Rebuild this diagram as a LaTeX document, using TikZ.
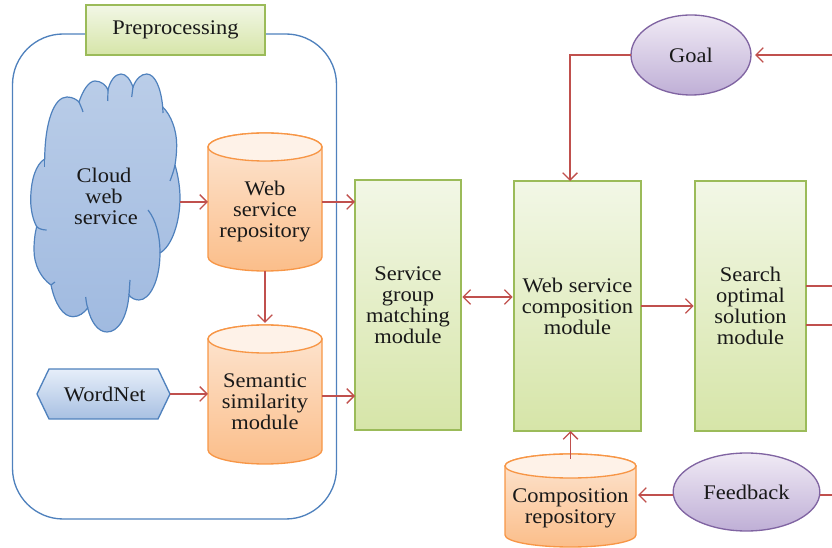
\documentclass[tikz,border=0pt]{standalone}
\usepackage{fontspec}
\setmainfont{Liberation Serif}[FakeStretch=1.08]
\usetikzlibrary{arrows.meta,shapes.geometric,calc}
\definecolor{grB}{HTML}{9BBB59}\definecolor{grT}{HTML}{F2F7E6}\definecolor{grD}{HTML}{D6E5A8}
\definecolor{orB}{HTML}{F79646}\definecolor{orT}{HTML}{FDE6D3}\definecolor{orD}{HTML}{FBBE8A}\definecolor{orL}{HTML}{FEF2E8}
\definecolor{blB}{HTML}{4F81BD}\definecolor{blT}{HTML}{BACDE8}\definecolor{blD}{HTML}{A0BAE0}
\definecolor{hxT}{HTML}{E6EEF9}\definecolor{hxD}{HTML}{A8C0E2}
\definecolor{puB}{HTML}{8064A2}\definecolor{puT}{HTML}{F0EAF5}\definecolor{puD}{HTML}{BFAFD6}
\definecolor{conn}{HTML}{C0504D}
\tikzset{
  x=0.75pt,y=-0.75pt,
  txt/.style={font=\fontsize{15.6}{15.75}\selectfont,align=center,inner sep=0pt,text=black!90},
  greenbox/.style={txt,rectangle,draw=grB,line width=1.1pt,top color=grT,bottom color=grD,outer sep=0pt},
  purpleell/.style={txt,ellipse,draw=puB,line width=1pt,top color=puT,bottom color=puD,outer sep=0pt},
  conline/.style={draw=conn,line width=0.95pt,-{Straight Barb[length=5.5pt,width=11pt,line width=0.95pt]}},
  plainline/.style={draw=conn,line width=0.95pt},
  bothline/.style={draw=conn,line width=0.95pt,{Straight Barb[length=5.5pt,width=11pt,line width=0.95pt]}-{Straight Barb[length=5.5pt,width=11pt,line width=0.95pt]}},
  cloudline/.style={draw=blB,line width=0.9pt}
}
% name, cx, half width, top, bottom, ry, text y, text
\newcommand{\cylshape}[8]{%
  \pgfmathsetmacro{\xl}{#2-#3}\pgfmathsetmacro{\xr}{#2+#3}
  \pgfmathsetmacro{\ya}{#4+#6}\pgfmathsetmacro{\yb}{#5-#6}
  \pgfmathsetmacro{\kx}{0.5523*#3}\pgfmathsetmacro{\ky}{0.5523*#6}
  \path[top color=orT,bottom color=orD,draw=orB,line width=1pt]
    (\xl,\ya) -- (\xl,\yb) .. controls (\xl,\yb+\ky) and (#2-\kx,#5) .. (#2,#5)
    .. controls (#2+\kx,#5) and (\xr,\yb+\ky) .. (\xr,\yb) -- (\xr,\ya)
    .. controls (\xr,\ya-\ky) and (#2+\kx,#4) .. (#2,#4)
    .. controls (#2-\kx,#4) and (\xl,\ya-\ky) .. (\xl,\ya) -- cycle;
  \path[fill=orL,draw=orB,line width=1pt]
    (\xl,\ya) .. controls (\xl,\ya+\ky) and (#2-\kx,#4+2*#6) .. (#2,#4+2*#6)
    .. controls (#2+\kx,#4+2*#6) and (\xr,\ya+\ky) .. (\xr,\ya)
    .. controls (\xr,\ya-\ky) and (#2+\kx,#4) .. (#2,#4)
    .. controls (#2-\kx,#4) and (\xl,\ya-\ky) .. (\xl,\ya) -- cycle;
  \node[inner sep=0pt,outer sep=0pt,minimum width={2*#3*0.75pt},minimum height={(#5-#4)*0.75pt}] (#1) at (#2,{(#4+#5)/2}) {};
  \node[txt] (#1text) at (#2,#7) {#8};
}
\begin{document}
\begin{tikzpicture}
\useasboundingbox (0,0) rectangle (832,548);
% frame
\path[draw=blB,line width=1pt,rounded corners=38pt] (12.5,34) rectangle (336.5,519);
\node[greenbox,minimum width=134pt,minimum height=37.5pt] (prep) at (175.5,30) {Preprocessing};
% cloud
\path[top color=blT,bottom color=blD,cloudline]
 (44.7,159) .. controls (45,122) and (54,97) .. (67,97) .. controls (73,97) and (77,100) .. (79,102)
 .. controls (83,90) and (89,81) .. (95,81) .. controls (101,81) and (106,85) .. (108,90)
 .. controls (110,81) and (115,74) .. (121,74) .. controls (126,74) and (130,79) .. (133,87)
 .. controls (136,79) and (141,74) .. (146.7,74) .. controls (155,74) and (161,88) .. (162.7,107)
 .. controls (171,115) and (176.7,130) .. (176.7,145) .. controls (176.7,152) and (176,159) .. (175,165)
 .. controls (178,175) and (180,187) .. (180,198) .. controls (180,222) and (172,246) .. (160,253)
 .. controls (160,280) and (150,300) .. (139,300) .. controls (135,300) and (131,298) .. (129,295)
 .. controls (127,318) and (118,332) .. (107,332) .. controls (98,332) and (91,322) .. (87.7,308)
 .. controls (84,313) and (79,316.7) .. (73,316.7) .. controls (63,316.7) and (55,304) .. (51,285)
 .. controls (41,278) and (34,265) .. (34,250) .. controls (34,241) and (35,233) .. (36.7,226.7)
 .. controls (33,220) and (30.7,210) .. (30.7,200) .. controls (30.7,180) and (36,164) .. (44.7,159) -- cycle;
\draw[cloudline] (44.7,159) -- (44.7,167);
\draw[cloudline] (79,102) .. controls (80,105) and (82,108) .. (83,112);
\draw[cloudline] (108,90) -- (107.7,101);
\draw[cloudline] (133,87) -- (131.7,97);
\draw[cloudline] (162.7,107) -- (163,113);
\draw[cloudline] (175,165) .. controls (174,170) and (172,176) .. (170,181);
\draw[cloudline] (148,210) .. controls (156,220) and (160,236) .. (160,253);
\draw[cloudline] (129,295) -- (130,280);
\draw[cloudline] (87.7,308) .. controls (86.5,304) and (86,300) .. (85.7,297);
\draw[cloudline] (51,285) -- (55,282);
\draw[cloudline] (36.7,226.7) .. controls (39,229) and (43,230) .. (46.7,230);
\node[txt] (cloudtext) at (104,196) {Cloud\\web\\\hspace*{3pt}service};
\coordinate (cloudE) at (180,202);
% cylinders
\cylshape{repo}{265}{57}{133}{271}{14}{212}{Web\\service\\repository}
\cylshape{sem}{265}{57}{325}{464}{14}{402}{Semantic\\similarity\\module}
\cylshape{crepo}{570.5}{65.5}{454}{547}{12}{508.5}{Composition\\repository}
% wordnet
\path[top color=hxT,bottom color=hxD,draw=blB,line width=1pt] (37,394) -- (49,369) -- (158,369) -- (170,394) -- (158,419) -- (49,419) -- cycle;
\node[txt,minimum width=99.75pt,minimum height=37.5pt] (wn) at (103.5,394) {\hspace*{2pt}WordNet};
% modules
\node[greenbox,minimum width=79.5pt,minimum height=187.5pt] (svc) at (408,305) {Service\\group\\matching\\module};
\node[greenbox,minimum width=95.25pt,minimum height=187.5pt] (cmp) at (577.5,306) {Web service\\composition\\module};
\node[greenbox,minimum width=83.25pt,minimum height=187.5pt] (srch) at (750.5,306) {Search\\optimal\\solution\\module};
% ellipses
\node[purpleell,minimum width=90pt,minimum height=60pt] (goal) at (691,55) {Goal};
\node[purpleell,minimum width=110pt,minimum height=58.5pt] (fb) at (746.5,492) {Feedback};
% free ends
\coordinate (goalR) at (832,55);
\coordinate (s1) at (832,286);
\coordinate (s2) at (832,325);
\coordinate (fbR) at (832,495);
\coordinate (scm) at (0,297);
\coordinate (ssm) at (0,396);
\coordinate (fbm) at (0,495);
\coordinate (gl) at (570,0);
% connectors
\draw[conline] (cloudE) -- (repo.west);
\draw[conline] (repo.east) -- (repo.east -| svc.west);
\draw[conline] (repo.south) -- ([yshift=1.5pt]sem.north);
\draw[conline] (wn.east) -- (wn.east -| sem.west);
\draw[conline] (sem.east |- ssm) -- (svc.west |- ssm);
\draw[bothline] ([xshift=1pt]svc.east |- scm) -- ([xshift=-1pt]cmp.west |- scm);
\draw[conline] (cmp.east) -- ([xshift=-1pt]srch.west);
\draw[conline] (goalR) -- ([xshift=3pt]goal.east);
\draw[conline] (goal.west) -- (gl |- goal.west) -- (gl |- cmp.north);
\draw[conline] ([yshift=-3.5pt]crepo.north) -- (crepo.north |- cmp.south);
\draw[conline] (fb.west |- fbm) -- ([xshift=1.5pt]crepo.east |- fbm);
\draw[plainline] (srch.east |- s1) -- (s1);
\draw[plainline] (srch.east |- s2) -- (s2);
\draw[plainline] (fb.east |- fbR) -- (fbR);
\end{tikzpicture}
\end{document}
